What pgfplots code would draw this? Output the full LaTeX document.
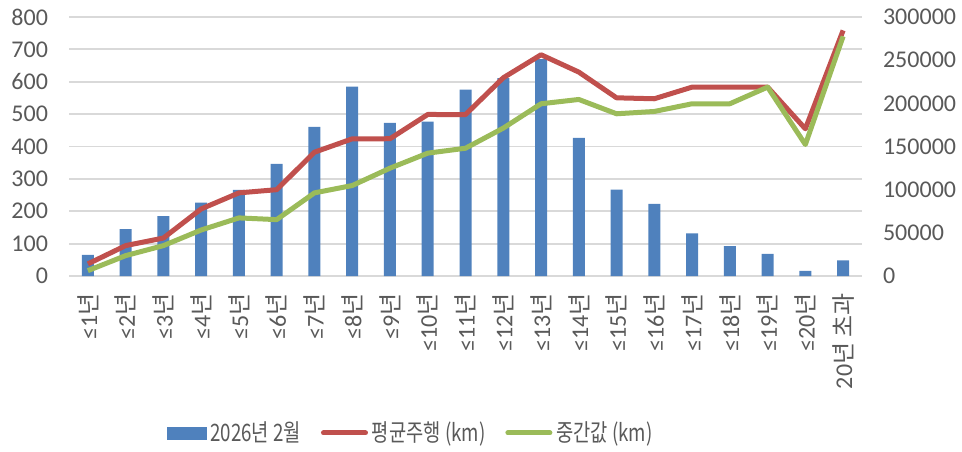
\documentclass[border=0pt]{standalone}
\usepackage{pgfplots}
\usepackage{pgfplotstable}
\pgfplotsset{compat=1.18}
\usepackage{fontspec}
\setmainfont{Carlito}
\newfontfamily\krfont{Noto Sans CJK KR}
\newfontfamily\krlegend[FakeStretch=0.78]{Noto Sans CJK KR}
\definecolor{barblue}{HTML}{4F81BD}
\definecolor{linered}{HTML}{C0504D}
\definecolor{linegreen}{HTML}{9BBB59}
\definecolor{gridgray}{HTML}{D9D9D9}
\definecolor{txtgray}{HTML}{595959}
\newcommand{\yr}{{\krfont 년}}

\pgfplotstableread{
x bars avg med
0 65 14000 6200
1 145 35200 23600
2 185 44000 35200
3 227 77700 53300
4 266 96300 67300
5 346 100000 65300
6 461 143400 96300
7 585 158900 104800
8 473 159000 124900
9 477 187100 142300
10 576 187000 148000
11 611 229600 171300
12 670 256300 199500
13 427 236200 204500
14 267 206400 187900
15 223 205300 190600
16 132 218800 199500
17 92 218800 199500
18 68 218800 218800
19 16 170500 152300
20 48 284500 277600
}\data

\begin{document}
\begin{tikzpicture}
\useasboundingbox (-34.5pt,-87.5pt) rectangle (446.5pt,138pt);
\begin{axis}[
  scale only axis, width=396.5pt, height=129.5pt,
  xmin=-0.5, xmax=20.5, ymin=0, ymax=800,
  ytick={0,100,...,800},
  xtick={0,...,20},
  xticklabels={≤1\yr,≤2\yr,≤3\yr,≤4\yr,≤5\yr,≤6\yr,≤7\yr,≤8\yr,≤9\yr,≤10\yr,≤11\yr,≤12\yr,≤13\yr,≤14\yr,≤15\yr,≤16\yr,≤17\yr,≤18\yr,≤19\yr,≤20\yr,20\yr\ {\krfont 초과}},
  ymajorgrids, grid style={gridgray, line width=0.9pt},
  axis line style={draw=none}, major tick length=0pt,
  /pgf/number format/assume math mode=true,
  y tick label style={font=\fontsize{12}{14}\selectfont, text=txtgray, xshift=-7pt},
  x tick label style={rotate=90, anchor=east, font=\fontsize{12}{14}\selectfont, text=txtgray, xshift=-5pt},
]
\addplot[ybar, bar width=6pt, fill=barblue, draw=none] table[x=x,y=bars]{\data};
\end{axis}
\begin{axis}[
  scale only axis, width=396.5pt, height=129.5pt,
  xmin=-0.5, xmax=20.5, ymin=0, ymax=300000,
  ytick={0,50000,...,300000},
  xtick=\empty,
  axis y line*=right, axis x line=none,
  axis line style={draw=none}, major tick length=0pt,
  scaled y ticks=false,
  /pgf/number format/.cd, fixed, 1000 sep={}, assume math mode=true,
  /pgfplots/.cd,
  y tick label style={font=\fontsize{12}{14}\selectfont, text=txtgray, xshift=7pt},
  legend columns=3,
  legend style={at={(0.432,-0.606)}, anchor=center, draw=none, fill=none,
    font=\krlegend\fontsize{12}{14}\selectfont, text=txtgray,
    /tikz/every even column/.append style={column sep=8pt},
    nodes={inner xsep=2pt}},
]
\addlegendimage{legend image code/.code={\fill[barblue] (0pt,-3pt) rectangle (19.5pt,3pt);}}
\addlegendentry{2026년 2월}
\addplot[linered, line width=2.5pt, line join=round,
  legend image code/.code={\draw[linered, line width=2.5pt, line cap=round] (0pt,0pt) -- (21pt,0pt);}]
  table[x=x,y=avg]{\data};
\addlegendentry{평균주행 (km)}
\addplot[linegreen, line width=2.5pt, line join=round,
  legend image code/.code={\draw[linegreen, line width=2.5pt, line cap=round] (0pt,0pt) -- (21pt,0pt);}]
  table[x=x,y=med]{\data};
\addlegendentry{중간값 (km)}
\end{axis}
\end{tikzpicture}
\end{document}
